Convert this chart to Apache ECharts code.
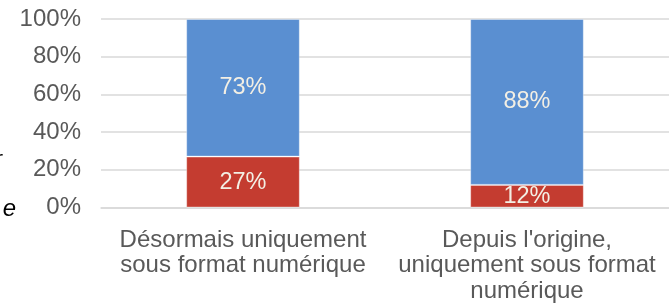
<!DOCTYPE html>
<html>
<head>
<meta charset="utf-8">
<script src="https://cdn.jsdelivr.net/npm/echarts@6/dist/echarts.min.js"></script>
<style>html,body{margin:0;padding:0;background:#fff}#c{width:669px;height:304px}</style>
</head>
<body>
<div id="c"></div>
<script>
const categories = ["Désormais uniquement\nsous format numérique", "Depuis l'origine,\nuniquement sous format\nnumérique"];
const redValues = [27, 12];
const blueValues = [73, 88];
const yTicks = [0, 20, 40, 60, 80, 100];

const FONT = "'Liberation Sans', Arial, sans-serif";
const chart = echarts.init(document.getElementById('c'), null, {renderer: 'canvas'});
const labelStyle = {
  show: true, position: 'inside', color: '#f3efe4', fontSize: 23.5, fontFamily: FONT,
  formatter: p => p.value + '%'
};
chart.setOption({
  animation: false,
  grid: {left: 101, top: 19, width: 572, height: 190, containLabel: false},
  xAxis: {
    type: 'category', data: categories,
    axisLine: {show: true, lineStyle: {color: '#d9d9d9', width: 1.5}},
    axisTick: {show: false},
    axisLabel: {color: '#595959', fontSize: 24, fontFamily: FONT, margin: 20, lineHeight: 25.5, interval: 0}
  },
  yAxis: {
    type: 'value', min: yTicks[0], max: yTicks[yTicks.length - 1], interval: 20,
    axisLine: {show: false}, axisTick: {show: false},
    splitLine: {lineStyle: {color: '#d9d9d9', width: 1.5}},
    axisLabel: {color: '#595959', fontSize: 24, fontFamily: FONT, margin: 20, formatter: v => v + '%'}
  },
  series: [
    {type: 'bar', stack: 's', data: redValues, barWidth: '40%',
     itemStyle: {color: '#c43c30', borderColor: 'rgba(255,255,255,0.35)', borderWidth: 1}, label: labelStyle},
    {type: 'bar', stack: 's', data: blueValues, barWidth: '40%',
     itemStyle: {color: '#5a8fd1', borderColor: 'rgba(255,255,255,0.35)', borderWidth: 1}, label: labelStyle}
  ],
  graphic: [
    {type: 'text', x: 2, y: 160, style: {text: 'r', font: 'italic 24px ' + FONT, fill: '#000', align: 'right', verticalAlign: 'middle'}},
    {type: 'text', x: 16, y: 209, style: {text: 'e', font: 'italic 24px ' + FONT, fill: '#000', align: 'right', verticalAlign: 'middle'}}
  ]
});
</script>
</body>
</html>
